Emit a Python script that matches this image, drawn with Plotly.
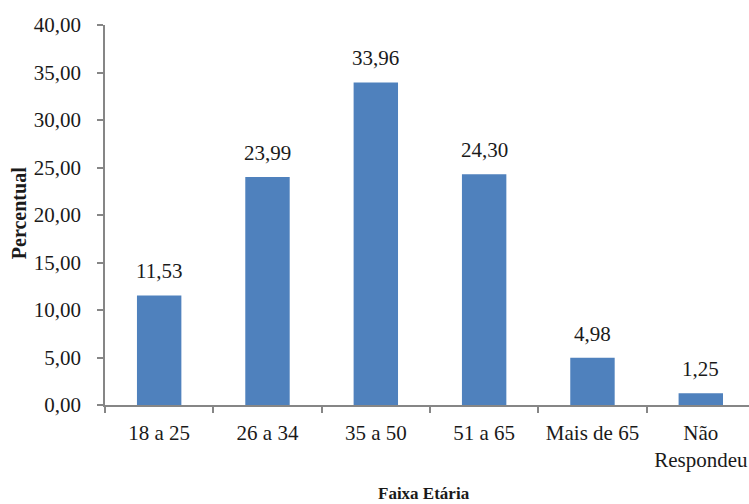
import plotly.graph_objects as go

# Age-group distribution (percent of respondents)
categories = ["18 a 25", "26 a 34", "35 a 50", "51 a 65", "Mais de 65", "Não<br>Respondeu"]
values = [11.53, 23.99, 33.96, 24.30, 4.98, 1.25]
y_ticks = [0, 5, 10, 15, 20, 25, 30, 35, 40]
y_tick_labels = [f"{v:.2f}".replace(".", ",") for v in y_ticks]

FONT = "Liberation Serif, Times New Roman, serif"
TEXT_COLOR = "#1a1a1a"
AXIS_COLOR = "#868686"
BAR_COLOR = "#4f81bd"

fig = go.Figure(
    go.Bar(
        x=categories,
        y=values,
        width=0.41,
        marker=dict(color=BAR_COLOR, line=dict(width=0)),
        hoverinfo="skip",
    )
)

# value labels above each bar
for cat, val in zip(categories, values):
    fig.add_annotation(
        x=cat, y=val, xref="x", yref="y",
        text=f"{val:.2f}".replace(".", ","),
        showarrow=False, yanchor="bottom", yshift=10,
        font=dict(family=FONT, size=21, color=TEXT_COLOR),
    )

# axis titles
fig.add_annotation(
    x=-0.1335, y=0.505, xref="paper", yref="paper",
    text="<b>Percentual</b>", textangle=-90, showarrow=False,
    xanchor="center", yanchor="middle",
    font=dict(family=FONT, size=20, color=TEXT_COLOR),
)
fig.add_annotation(
    x=0.495, y=-0.234, xref="paper", yref="paper",
    text="<b>Faixa Etária</b>", showarrow=False,
    xanchor="center", yanchor="middle",
    font=dict(family=FONT, size=17, color=TEXT_COLOR),
)

fig.update_layout(
    width=749, height=504,
    margin=dict(l=105, r=0, t=25, b=99),
    paper_bgcolor="white", plot_bgcolor="white",
    showlegend=False,
    font=dict(family=FONT, size=21, color=TEXT_COLOR),
)

fig.update_xaxes(
    type="category",
    range=[-0.5, 5.445],
    showline=True, linecolor=AXIS_COLOR, linewidth=1.5,
    ticks="outside", ticklen=6, tickcolor=AXIS_COLOR, tickwidth=1.5,
    tickson="boundaries",
    ticklabelstandoff=8,
    showgrid=False, zeroline=False,
    tickfont=dict(family=FONT, size=21, color=TEXT_COLOR),
)

fig.update_yaxes(
    range=[0, 40],
    tickvals=y_ticks, ticktext=y_tick_labels,
    showline=True, linecolor=AXIS_COLOR, linewidth=1.5,
    ticks="outside", ticklen=6, tickcolor=AXIS_COLOR, tickwidth=1.5,
    ticklabelstandoff=12,
    showgrid=False, zeroline=False,
    tickfont=dict(family=FONT, size=21, color=TEXT_COLOR),
)

fig.write_html("out.html")
